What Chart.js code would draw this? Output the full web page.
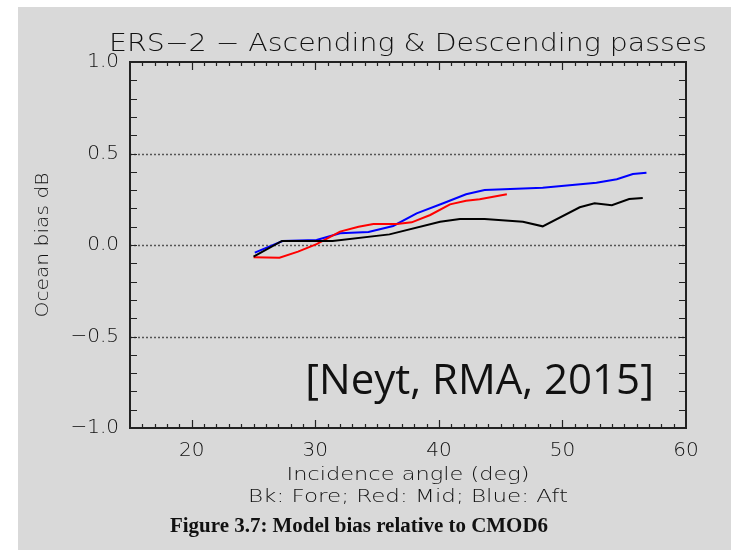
<!DOCTYPE html>
<html>
<head>
<meta charset="utf-8">
<script src="https://cdn.jsdelivr.net/npm/chart.js@4.4.1/dist/chart.umd.min.js"></script>
<style>
  html, body { margin: 0; padding: 0; background: #fff; }
  #wrap { position: absolute; left: 18px; top: 7px; width: 713px; height: 543px; background: #d9d9d9; }
  canvas { display: block; }
</style>
</head>
<body>
<div id="wrap"><canvas id="chart" width="713" height="543"></canvas></div>
<script>
// incidence angle (deg) and ocean bias (dB) for each beam
const foreAngles = [25, 27.3, 31.4, 36.0, 40.1, 41.7, 43.7, 46.8, 48.4, 51.4, 52.6, 54.0, 55.4, 56.5];
const foreBias   = [-0.064, 0.022, 0.022, 0.058, 0.127, 0.142, 0.142, 0.127, 0.102, 0.206, 0.228, 0.217, 0.251, 0.257];

const midAngles = [25, 27.1, 28.6, 30.1, 32.0, 33.5, 34.7, 36.6, 37.8, 39.3, 40.9, 42.2, 43.3, 45.5];
const midBias   = [-0.067, -0.069, -0.036, 0.005, 0.073, 0.100, 0.115, 0.115, 0.124, 0.164, 0.222, 0.242, 0.250, 0.277];

const aftAngles = [25.1, 27.35, 30.1, 32.0, 34.3, 36.3, 38.2, 40.35, 42.2, 43.7, 48.4, 52.75, 54.4, 55.7, 56.8];
const aftBias   = [-0.042, 0.022, 0.027, 0.064, 0.071, 0.104, 0.173, 0.228, 0.277, 0.300, 0.313, 0.340, 0.359, 0.388, 0.395];

const xTicks = [20, 30, 40, 50, 60];
const yTicks = [-1.0, -0.5, 0.0, 0.5, 1.0];
const dottedAt = [-0.5, 0.0, 0.5];

const titleText = "ERS\u22122 \u2212 Ascending & Descending passes";
const xTitleLines = ["Incidence angle (deg)", "Bk: Fore; Red: Mid; Blue: Aft"];
const yTitleText = "Ocean bias dB";
const captionText = "Figure 3.7: Model bias relative to CMOD6";
const tagText = "[Neyt, RMA, 2015]";

const toPoints = (xs, ys) => xs.map((x, i) => ({ x, y: ys[i] }));
const minus = v => (v < 0 ? "\u2212" : "") + Math.abs(v).toFixed(1);

const THIN = "200 %spx 'DejaVu Sans', sans-serif";
const thinFont = size => ({ family: "'DejaVu Sans', sans-serif", size, weight: "200" });

// draws a line of text centred at (cx, cy), stretched sideways to a given width (IDL fonts run wide)
function stretched(ctx, text, cx, cy, width, font) {
  ctx.save();
  ctx.font = font;
  const w0 = ctx.measureText(text).width;
  ctx.translate(cx, cy);
  ctx.scale(width / w0, 1);
  ctx.textAlign = "center";
  ctx.textBaseline = "middle";
  ctx.fillText(text, 0, 0);
  ctx.restore();
}

// IDL-style frame: box, inward ticks on all four sides, dotted reference lines, titles
const idlFrame = {
  id: "idlFrame",
  beforeDatasetsDraw(chart) {
    const { ctx, chartArea: a, scales: { y } } = chart;
    ctx.save();
    ctx.strokeStyle = "#555";
    ctx.lineWidth = 1.5;
    ctx.setLineDash([2, 2]);
    dottedAt.forEach(v => {
      const py = Math.round(y.getPixelForValue(v)) + 0.5;
      ctx.beginPath();
      ctx.moveTo(a.left, py);
      ctx.lineTo(a.right, py);
      ctx.stroke();
    });
    ctx.restore();
  },
  afterDatasetsDraw(chart) {
    const { ctx, chartArea: a, scales: { x, y } } = chart;
    ctx.save();
    ctx.strokeStyle = "#222";
    ctx.lineWidth = 1.2;
    ctx.beginPath();
    for (let d = 16; d < 60; d++) {
      const px = Math.round(x.getPixelForValue(d)) + 0.5;
      const len = d % 10 === 0 ? 8 : 4;
      ctx.moveTo(px, a.bottom); ctx.lineTo(px, a.bottom - len);
      ctx.moveTo(px, a.top); ctx.lineTo(px, a.top + len);
    }
    for (let k = -9; k <= 9; k++) {
      const py = Math.round(y.getPixelForValue(k / 10)) + 0.5;
      ctx.moveTo(a.left, py); ctx.lineTo(a.left + 7, py);
      ctx.moveTo(a.right, py); ctx.lineTo(a.right - 7, py);
    }
    ctx.stroke();
    ctx.lineWidth = 2;
    ctx.strokeRect(a.left, a.top, a.right - a.left, a.bottom - a.top);

    ctx.fillStyle = "#111";
    ctx.font = "42px 'Open Sans', sans-serif";
    ctx.textAlign = "right";
    ctx.textBaseline = "middle";
    ctx.fillText(tagText, x.getPixelForValue(57.4), y.getPixelForValue(-0.75));

    const cx = (a.left + a.right) / 2;
    stretched(ctx, titleText, cx, a.top - 17, 598, THIN.replace("%s", 24));
    stretched(ctx, xTitleLines[0], cx, a.bottom + 48, 243, THIN.replace("%s", 17));
    stretched(ctx, xTitleLines[1], cx, a.bottom + 70, 320, THIN.replace("%s", 17));
    stretched(ctx, captionText, cx - 49, a.bottom + 99, 378, "bold 20px 'Liberation Serif', 'Times New Roman', serif");

    ctx.save();
    ctx.translate(25, (a.top + a.bottom) / 2);
    ctx.rotate(-Math.PI / 2);
    stretched(ctx, yTitleText, 0, 0, 145, THIN.replace("%s", 18));
    ctx.restore();
    ctx.restore();
  }
};

new Chart(document.getElementById("chart"), {
  type: "scatter",
  data: {
    datasets: [
      { label: "Fore", data: toPoints(foreAngles, foreBias), borderColor: "#000000" },
      { label: "Mid", data: toPoints(midAngles, midBias), borderColor: "#ff0000" },
      { label: "Aft", data: toPoints(aftAngles, aftBias), borderColor: "#0000ff" }
    ].map(d => ({ ...d, showLine: true, borderWidth: 2, pointRadius: 0, tension: 0, fill: false }))
  },
  options: {
    responsive: false,
    devicePixelRatio: 1,
    animation: false,
    layout: { padding: { left: 0, right: 45, top: 55, bottom: 0 } },
    plugins: {
      legend: { display: false },
      tooltip: { enabled: false }
    },
    scales: {
      x: {
        type: "linear",
        min: 15,
        max: 60,
        afterBuildTicks: s => { s.ticks = xTicks.map(v => ({ value: v })); },
        afterFit: s => { s.height = 122; },
        grid: { display: false, drawTicks: false },
        border: { display: false },
        ticks: { color: "#111", font: thinFont(20), padding: 11, maxRotation: 0 }
      },
      y: {
        min: -1,
        max: 1,
        afterBuildTicks: s => { s.ticks = yTicks.map(v => ({ value: v })); },
        afterFit: s => { s.width = 112; },
        grid: { display: false, drawTicks: false },
        border: { display: false },
        ticks: { color: "#111", font: thinFont(20), padding: 11, callback: v => minus(v) }
      }
    }
  },
  plugins: [idlFrame]
});
</script>
</body>
</html>
